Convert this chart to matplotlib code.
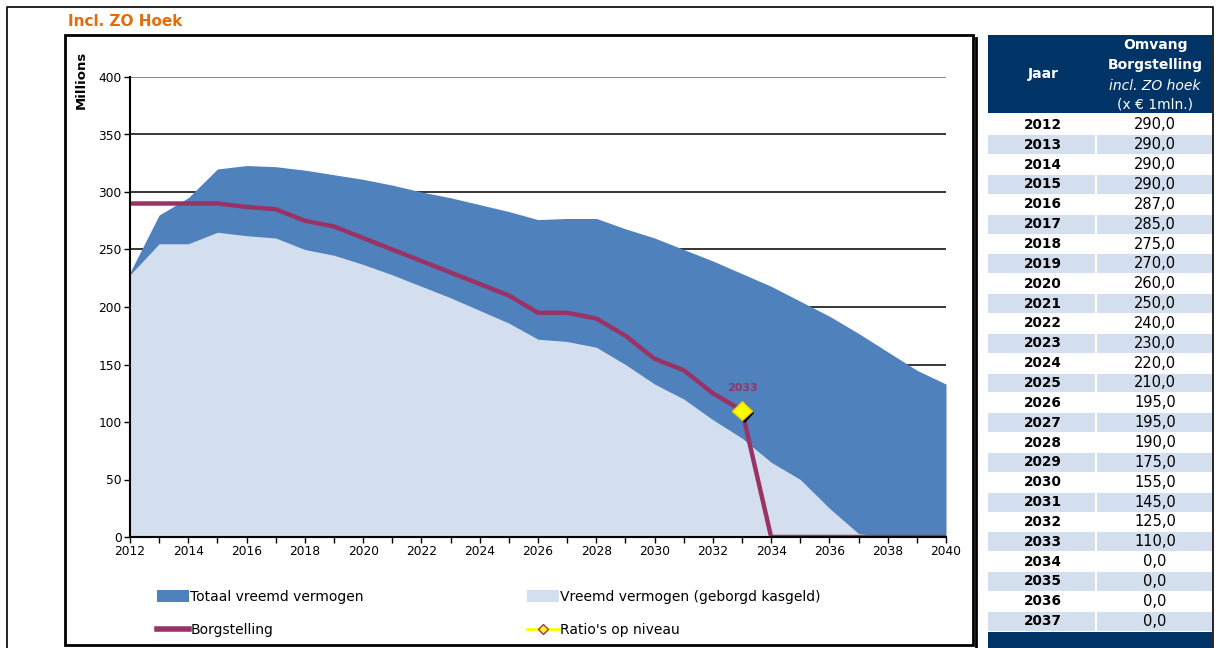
import matplotlib
matplotlib.use("Agg")
import matplotlib.pyplot as plt
import matplotlib.patheffects as pe
from matplotlib.patches import Rectangle, Patch
from matplotlib.lines import Line2D

W, H = 1218, 648

# data
years = [2012, 2013, 2014, 2015, 2016, 2017, 2018, 2019, 2020, 2021, 2022, 2023, 2024, 2025,
         2026, 2027, 2028, 2029, 2030, 2031, 2032, 2033, 2034, 2035, 2036, 2037, 2038, 2039, 2040]
totaal = [230, 280, 295, 320, 323, 322, 319, 315, 311, 306, 300, 295, 289, 283,
          276, 277, 277, 268, 260, 250, 240, 229, 218, 205, 192, 177, 161, 145, 133]
kasgeld = [228, 255, 255, 265, 262, 260, 250, 245, 237, 228, 218, 208, 197, 186,
           172, 170, 165, 150, 133, 120, 102, 86, 65, 50, 25, 3, 0, 0, 0]
borg = [290, 290, 290, 290, 287, 285, 275, 270, 260, 250, 240, 230, 220, 210,
        195, 195, 190, 175, 155, 145, 125, 110, 0, 0, 0, 0, 0, 0, 0]
ratio_year = [2033]
ratio_val = [110]

table_years = years[:26]
table_vals = borg[:26]

c_dark = '#4F81BD'
c_light = '#D3DEEF'
c_borg = '#993366'
c_navy = '#003366'
c_row = '#D3DFEE'


def fx(x):
    return x / W


def fy(y):
    return 1 - y / H


fig = plt.figure(figsize=(W / 100, H / 100), dpi=100)
fig.patch.set_facecolor('white')

# outer frame
fig.add_artist(Line2D([fx(7), fx(7), fx(1213), fx(1213)], [fy(648), fy(7), fy(7), fy(648)],
                      transform=fig.transFigure, color='black', lw=1.2))

# chart box + shadow
fig.add_artist(Rectangle((fx(65), fy(645)), fx(973) - fx(65), fy(35) - fy(645),
                         transform=fig.transFigure, fill=False, ec='black', lw=2, zorder=1))
fig.add_artist(Line2D([fx(976), fx(976)], [fy(38), fy(648)], transform=fig.transFigure,
                      color='black', lw=2))

fig.text(fx(68), fy(21), 'Incl. ZO Hoek', color='#E46C0A', fontsize=11, fontweight='bold',
         va='center', ha='left')

ax = fig.add_axes([fx(130), fy(537), fx(946) - fx(130), fy(77) - fy(537)])
ax.set_facecolor('none')
ax.fill_between(years, 0, totaal, color=c_dark, lw=0, zorder=2)
ax.fill_between(years, 0, kasgeld, color=c_light, lw=0, zorder=3)
ax.plot(years, borg, color=c_borg, lw=3.2, zorder=4, solid_joinstyle='miter')
ax.plot(ratio_year, ratio_val, ls='none', marker='D', ms=10, mfc='#FFFF00', mec='#E8D000', mew=1,
        zorder=5, path_effects=[pe.SimplePatchShadow(offset=(1.8, -1.8), shadow_rgbFace='black', alpha=1),
                                pe.Normal()])
for yr, v in zip(ratio_year, ratio_val):
    ax.annotate(str(yr), (yr, v), xytext=(0, 16), textcoords='offset points', ha='center',
                va='center', color=c_borg, fontsize=8, fontweight='bold', zorder=6)

ax.set_xlim(2012, 2040)
ax.set_ylim(0, 400)
ax.set_yticks(range(0, 401, 50))
ax.set_xticks(range(2012, 2041, 2))
ax.set_xticks(range(2012, 2041, 1), minor=True)
ax.tick_params(axis='both', labelsize=8.8, direction='out', length=4, width=1, color='black', pad=2)
ax.tick_params(axis='x', which='minor', length=4, width=1)
for y in range(50, 401, 50):
    ax.axhline(y, color='#666666' if y == 400 else 'black', lw=1.1, zorder=1)
for s in ['top', 'right']:
    ax.spines[s].set_visible(False)
for s in ['left', 'bottom']:
    ax.spines[s].set_linewidth(1.5)
    ax.spines[s].set_zorder(6)

fig.text(fx(81), fy(80), 'Millions', rotation=90, fontsize=9.5, fontweight='bold',
         ha='center', va='center')

# legends
h1 = [Patch(facecolor=c_dark, edgecolor='none'), Line2D([], [], color=c_borg, lw=4)]
h2 = [Patch(facecolor=c_light, edgecolor='none'),
      Line2D([], [], color='#FFFF00', lw=2, marker='D', ms=5, mfc='#FFFF00', mec=c_borg)]
kw = dict(loc='upper left', frameon=False, fontsize=10, borderpad=0, borderaxespad=0,
          handlelength=2.3, handletextpad=0.1, labelspacing=1.4, handleheight=0.9)
fig.legend(h1, ['Totaal vreemd vermogen', 'Borgstelling'],
           bbox_to_anchor=(fx(157), fy(590)), **kw)
fig.legend(h2, ['Vreemd vermogen (geborgd kasgeld)', "Ratio's op niveau"],
           bbox_to_anchor=(fx(527), fy(590)), **kw)

# table
tx0, tx1, tsep = 988, 1212, 1096
fig.add_artist(Rectangle((fx(tx0), fy(113)), fx(tx1) - fx(tx0), fy(35) - fy(113),
                         transform=fig.transFigure, color=c_navy, lw=0))
fig.text(fx(1043), fy(74), 'Jaar', color='white', fontsize=10, fontweight='bold', ha='center', va='center')
fig.text(fx(1155), fy(45), 'Omvang', color='white', fontsize=10, fontweight='bold', ha='center', va='center')
fig.text(fx(1155), fy(65), 'Borgstelling', color='white', fontsize=10, fontweight='bold', ha='center', va='center')
fig.text(fx(1155), fy(86), 'incl. ZO hoek', color='white', fontsize=10, style='italic', ha='center', va='center')
fig.text(fx(1155), fy(104), '(x € 1mln.)', color='white', fontsize=10, ha='center', va='center')

row_h = 19.85
for i, (yr, v) in enumerate(zip(table_years, table_vals)):
    top = 115 + i * row_h
    if i % 2 == 1:
        fig.add_artist(Rectangle((fx(tx0), fy(top + row_h - 0.5)), fx(tsep - 1) - fx(tx0),
                                 (row_h - 1) / H, transform=fig.transFigure, color=c_row, lw=0))
        fig.add_artist(Rectangle((fx(tsep + 1), fy(top + row_h - 0.5)), fx(tx1) - fx(tsep + 1),
                                 (row_h - 1) / H, transform=fig.transFigure, color=c_row, lw=0))
    cy = top + row_h / 2
    fig.text(fx(1043), fy(cy), str(yr), fontsize=9.8, fontweight='bold', ha='center', va='center')
    fig.text(fx(1155), fy(cy), f'{v:.1f}'.replace('.', ','), fontsize=10.5, ha='center', va='center')

fig.add_artist(Rectangle((fx(tx0), 0), fx(tx1) - fx(tx0), fy(632), transform=fig.transFigure,
                         color=c_navy, lw=0))

fig.savefig('out.png', dpi=100)
